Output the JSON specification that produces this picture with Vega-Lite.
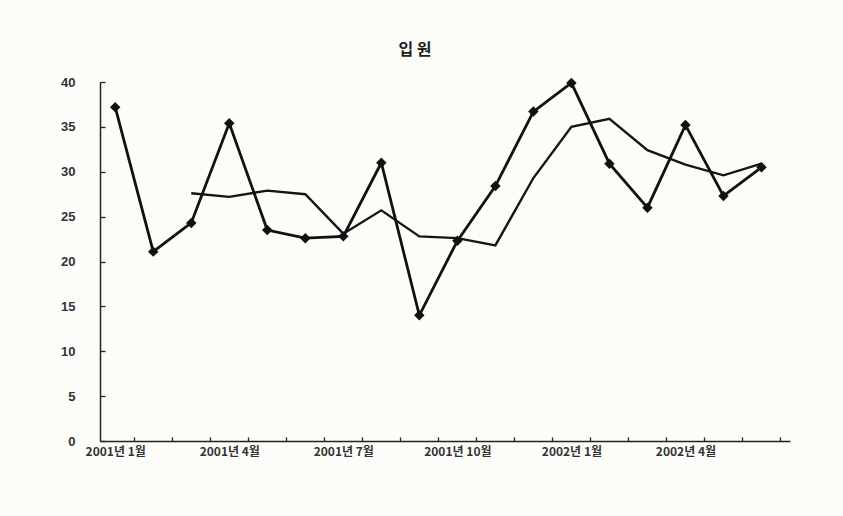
{
  "$schema": "https://vega.github.io/schema/vega-lite/v6.json",
  "width": 690,
  "height": 359,
  "autosize": "none",
  "padding": {"left": 100, "top": 82, "right": 53, "bottom": 75},
  "background": "#fcfcf9",
  "title": {
    "text": "입 원",
    "font": "Noto Sans CJK KR",
    "fontSize": 16,
    "fontWeight": "bold",
    "color": "#222",
    "anchor": "middle",
    "dx": -30,
    "offset": 18
  },
  "config": {
    "view": {"stroke": null},
    "axis": {"grid": false, "domainColor": "#222", "tickColor": "#222", "domainWidth": 1.5, "tickWidth": 1.3}
  },
  "data": {
    "values": [
      {"m": 1, "v": 37.2, "ma": null},
      {"m": 2, "v": 21.1, "ma": null},
      {"m": 3, "v": 24.3, "ma": 27.6},
      {"m": 4, "v": 35.4, "ma": 27.2},
      {"m": 5, "v": 23.5, "ma": 27.9},
      {"m": 6, "v": 22.6, "ma": 27.5},
      {"m": 7, "v": 22.8, "ma": 23.1},
      {"m": 8, "v": 31.0, "ma": 25.7},
      {"m": 9, "v": 14.0, "ma": 22.8},
      {"m": 10, "v": 22.3, "ma": 22.6},
      {"m": 11, "v": 28.4, "ma": 21.8},
      {"m": 12, "v": 36.7, "ma": 29.3},
      {"m": 13, "v": 39.9, "ma": 35.0},
      {"m": 14, "v": 30.9, "ma": 35.9},
      {"m": 15, "v": 26.0, "ma": 32.4},
      {"m": 16, "v": 35.2, "ma": 30.8},
      {"m": 17, "v": 27.3, "ma": 29.6},
      {"m": 18, "v": 30.5, "ma": 30.9}
    ]
  },
  "layer": [
    {
      "transform": [{"filter": "datum.ma != null"}],
      "mark": {"type": "line", "color": "#151515", "strokeWidth": 2.4},
      "encoding": {
        "x": {
          "field": "m",
          "type": "quantitative",
          "scale": {"domain": [0.6, 18.75], "nice": false, "zero": false},
          "axis": {
            "orient": "bottom",
            "title": null,
            "values": [1.5, 2.5, 3.5, 4.5, 5.5, 6.5, 7.5, 8.5, 9.5, 10.5, 11.5, 12.5, 13.5, 14.5, 15.5, 16.5, 17.5, 18.5],
            "labels": false,
            "domain": true,
            "tickSize": -4
          }
        },
        "y": {
          "field": "ma",
          "type": "quantitative",
          "scale": {"domain": [0, 40], "nice": false},
          "axis": {
            "title": null,
            "values": [0, 5, 10, 15, 20, 25, 30, 35, 40],
            "tickSize": -5,
            "labelPadding": 30,
            "labelFont": "Liberation Sans",
            "labelFontSize": 13,
            "labelFontWeight": "bold",
            "labelColor": "#333"
          }
        }
      }
    },
    {
      "mark": {
        "type": "line",
        "color": "#111",
        "strokeWidth": 2.8,
        "point": {"shape": "diamond", "filled": true, "size": 110, "color": "#111"}
      },
      "encoding": {
        "x": {
          "field": "m",
          "type": "quantitative",
          "axis": {
            "orient": "bottom",
            "title": null,
            "values": [1, 4, 7, 10, 13, 16],
            "ticks": false,
            "domain": false,
            "labelPadding": 5,
            "labelFont": "Noto Sans CJK KR",
            "labelFontSize": 12,
            "labelFontWeight": "bold",
            "labelColor": "#333",
            "labelExpr": "(datum.value <= 12 ? '2001' : '2002') + '년 ' + ((datum.value - 1) % 12 + 1) + '월'"
          }
        },
        "y": {"field": "v", "type": "quantitative"}
      }
    }
  ],
  "resolve": {"axis": {"x": "independent"}}
}
